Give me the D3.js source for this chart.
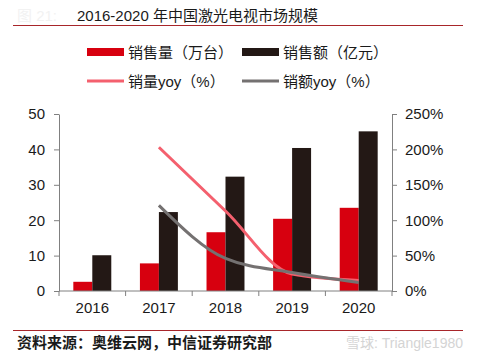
<!DOCTYPE html>
<html>
<head>
<meta charset="utf-8">
<script src="https://cdn.jsdelivr.net/npm/d3@7"></script>
<style>
  body { margin: 0; background: #fff; }
  svg { display: block; font-family: "Liberation Sans", Arial, "Noto Sans CJK SC", sans-serif; }
</style>
</head>
<body>
<div id="chart"></div>
<script>
// values
const years = ['2016', '2017', '2018', '2019', '2020'];
const salesVolume = [2.6, 7.8, 16.6, 20.4, 23.5];   // 销售量（万台）
const salesValue = [10.1, 22.3, 32.3, 40.4, 45.1];  // 销售额（亿元）
const volumeYoy = [null, 203, 113, 24, 15];          // 销量yoy（%）
const valueYoy = [null, 121, 46, 26, 12];            // 销额yoy（%）
const leftTicks = [0, 10, 20, 30, 40, 50];
const rightTicks = [0, 50, 100, 150, 200, 250];

const width = 480, height = 360;
const plot = { left: 59, right: 392, top: 114, bottom: 291 };

const colors = {
    volume: '#d7000f',
    value: '#231815',
    volumeYoy: '#f4606e',
    valueYoy: '#747171',
    axis: '#808080',
    rule: '#a8262a',
    text: '#1a1a1a'
};

const svg = d3.select('#chart').append('svg')
    .attr('width', width)
    .attr('height', height);

// title + rules
svg.append('text')
    .attr('x', 17).attr('y', 21)
    .attr('font-size', 15)
    .attr('fill', '#f2f2f2')
    .text('图 21:');

svg.append('text')
    .attr('x', 77).attr('y', 21)
    .attr('font-size', 15)
    .attr('fill', colors.text)
    .text('2016-2020 年中国激光电视市场规模');

svg.append('line')
    .attr('x1', 13).attr('x2', 463)
    .attr('y1', 25.5).attr('y2', 25.5)
    .attr('stroke', colors.rule).attr('stroke-width', 1.2);

svg.append('line')
    .attr('x1', 13).attr('x2', 463)
    .attr('y1', 330.5).attr('y2', 330.5)
    .attr('stroke', colors.rule).attr('stroke-width', 1.2);

// legend
const legend = [
    { label: '销售量（万台）', color: colors.volume, type: 'bar', x: 87, y: 52 },
    { label: '销售额（亿元）', color: colors.value, type: 'bar', x: 242, y: 52 },
    { label: '销量yoy（%）', color: colors.volumeYoy, type: 'line', x: 87, y: 81 },
    { label: '销额yoy（%）', color: colors.valueYoy, type: 'line', x: 242, y: 81 }
];

const lg = svg.append('g').selectAll('g')
    .data(legend)
    .enter().append('g')
    .attr('transform', d => `translate(${d.x}, ${d.y})`);

lg.append('rect')
    .attr('x', 0)
    .attr('y', d => d.type === 'bar' ? -4 : -1.5)
    .attr('width', 37)
    .attr('height', d => d.type === 'bar' ? 8 : 3)
    .attr('fill', d => d.color);

lg.append('text')
    .attr('x', 41)
    .attr('y', 5.5)
    .attr('font-size', 15)
    .attr('fill', colors.text)
    .text(d => d.label);

// scales
const x0 = d3.scaleBand()
    .domain(years)
    .range([plot.left, plot.right])
    .paddingInner(0.43)
    .paddingOuter(0.215);

const x1 = d3.scaleBand()
    .domain(['volume', 'value'])
    .range([0, x0.bandwidth()]);

const yLeft = d3.scaleLinear().domain([0, 50]).range([plot.bottom, plot.top]);
const yRight = d3.scaleLinear().domain([0, 250]).range([plot.bottom, plot.top]);

// bars
const barData = years.map((year, i) => ({ year, volume: salesVolume[i], value: salesValue[i] }));

const groups = svg.append('g').selectAll('g')
    .data(barData)
    .enter().append('g')
    .attr('transform', d => `translate(${x0(d.year)}, 0)`);

groups.selectAll('rect')
    .data(d => [{ key: 'volume', v: d.volume }, { key: 'value', v: d.value }])
    .enter().append('rect')
    .attr('x', d => x1(d.key))
    .attr('y', d => yLeft(d.v))
    .attr('width', x1.bandwidth())
    .attr('height', d => plot.bottom - yLeft(d.v))
    .attr('fill', d => colors[d.key]);

// axes
const leftAxis = svg.append('g')
    .attr('transform', `translate(${plot.left}, 0)`)
    .call(d3.axisLeft(yLeft).tickValues(leftTicks).tickSize(5).tickPadding(9).tickSizeOuter(0));

const rightAxis = svg.append('g')
    .attr('transform', `translate(${plot.right}, 0)`)
    .call(d3.axisRight(yRight).tickValues(rightTicks).tickSize(5).tickPadding(8).tickSizeOuter(0)
        .tickFormat(d => d + '%'));

const xCenter = d => x0(d) + x0.bandwidth() / 2;
const step = x0.step();

const bottomAxis = svg.append('g')
    .attr('transform', `translate(0, ${plot.bottom})`);

bottomAxis.append('line')
    .attr('x1', plot.left).attr('x2', plot.right)
    .attr('stroke', colors.axis);

bottomAxis.selectAll('line.tick')
    .data(d3.range(years.length + 1))
    .enter().append('line')
    .attr('class', 'tick')
    .attr('x1', i => plot.left + i * step)
    .attr('x2', i => plot.left + i * step)
    .attr('y1', 0).attr('y2', 5)
    .attr('stroke', colors.axis);

bottomAxis.selectAll('text')
    .data(years)
    .enter().append('text')
    .attr('x', d => xCenter(d))
    .attr('y', 22)
    .attr('text-anchor', 'middle')
    .attr('font-size', 15)
    .attr('fill', colors.text)
    .text(d => d);

[leftAxis, rightAxis].forEach(ax => {
    ax.select('.domain').attr('stroke', colors.axis);
    ax.selectAll('.tick line').attr('stroke', colors.axis);
    ax.selectAll('.tick text')
        .attr('font-size', 15)
        .attr('fill', colors.text)
        .attr('font-family', '"Liberation Sans", Arial, sans-serif');
});

// yoy lines
const line = d3.line()
    .defined(d => d.v != null)
    .x(d => xCenter(d.year))
    .y(d => yRight(d.v))
    .curve(d3.curveMonotoneX);

const series = [
    { values: volumeYoy, color: colors.volumeYoy },
    { values: valueYoy, color: colors.valueYoy }
];

svg.append('g').selectAll('path')
    .data(series)
    .enter().append('path')
    .attr('d', s => line(years.map((year, i) => ({ year, v: s.values[i] })).filter(p => p.v != null)))
    .attr('fill', 'none')
    .attr('stroke', s => s.color)
    .attr('stroke-width', 3)
    .attr('stroke-linejoin', 'round');

// source + watermark
svg.append('text')
    .attr('x', 17).attr('y', 348)
    .attr('font-size', 15)
    .attr('font-weight', 'bold')
    .attr('fill', colors.text)
    .text('资料来源：奥维云网，中信证券研究部');

svg.append('text')
    .attr('x', 463).attr('y', 348)
    .attr('text-anchor', 'end')
    .attr('font-size', 14)
    .attr('fill', '#d4d4d4')
    .text('雪球: Triangle1980');
</script>
</body>
</html>
